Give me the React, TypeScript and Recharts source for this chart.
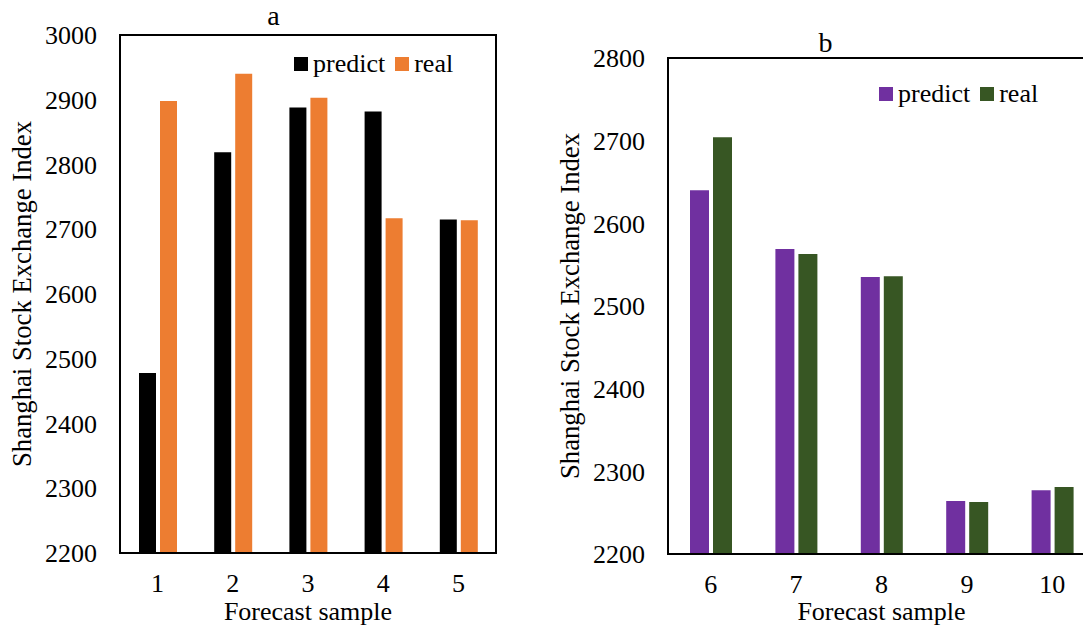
import React from 'react';
import { BarChart, Bar, XAxis, YAxis, Legend, ReferenceArea } from 'recharts';

const categoriesA = ['1', '2', '3', '4', '5'];
const predictA = [2478, 2819, 2888, 2882, 2715];
const realA = [2898, 2940, 2903, 2717, 2714];
const ticksA = [2200, 2300, 2400, 2500, 2600, 2700, 2800, 2900, 3000];

const categoriesB = ['6', '7', '8', '9', '10'];
const predictB = [2640, 2569, 2535, 2264, 2277];
const realB = [2704, 2563, 2536, 2263, 2281];
const ticksB = [2200, 2300, 2400, 2500, 2600, 2700, 2800];

const dataA = categoriesA.map((c, i) => ({ name: c, predict: predictA[i], real: realA[i] }));
const dataB = categoriesB.map((c, i) => ({ name: c, predict: predictB[i], real: realB[i] }));

const FONT = '"Liberation Serif", "Times New Roman", serif';
const FS = 26;
const textStyle = { fontFamily: FONT, fontSize: FS, fill: '#000' };
const titleStyle = { fontFamily: FONT, fontSize: 28, fill: '#000' };
const yLabelStyle = { fontFamily: FONT, fontSize: 26.7, fill: '#000' };

const renderLegend = (props: any) => {
  const { payload } = props;
  return (
    <div style={{ display: 'flex', alignItems: 'center', height: 30, lineHeight: '30px', fontFamily: FONT, fontSize: FS, color: '#000', whiteSpace: 'nowrap' }}>
      {(payload || []).map((p: any, i: number) => (
        <div key={i} style={{ display: 'flex', alignItems: 'center', marginRight: 10 }}>
          <div style={{ width: 14, height: 14, background: p.color, marginRight: 5 }} />
          <span>{p.value}</span>
        </div>
      ))}
    </div>
  );
};

type PanelProps = {
  data: any[];
  ticks: number[];
  domain: [number, number];
  width: number;
  height: number;
  plotLeft: number;
  plotTop: number;
  plotRight: number;
  plotBottom: number;
  barSize: number;
  colors: [string, string];
  title: string;
  titleX: number;
  titleY: number;
  yLabelX: number;
  legendLeft: number;
  legendTop: number;
};

const Panel = (p: PanelProps) => {
  const cx = (p.plotLeft + p.plotRight) / 2;
  const cy = (p.plotTop + p.plotBottom) / 2;
  return (
    <BarChart
      width={p.width}
      height={p.height}
      data={p.data}
      margin={{ top: p.plotTop, right: p.width - p.plotRight, left: 0, bottom: 0 }}
      barGap={4}
      style={{ fontFamily: FONT }}
    >
      <XAxis
        dataKey="name"
        height={p.height - p.plotBottom}
        tickLine={false}
        tickSize={6}
        tickMargin={15}
        axisLine={{ stroke: '#000', strokeWidth: 2 }}
        tick={{ fill: '#000', fontSize: FS, fontFamily: FONT, style: textStyle }}
      />
      <YAxis
        width={p.plotLeft}
        domain={p.domain}
        ticks={p.ticks}
        interval={0}
        allowDataOverflow
        tickLine={false}
        tickSize={6}
        tickMargin={17}
        axisLine={{ stroke: '#000', strokeWidth: 2 }}
        tick={{ fill: '#000', fontSize: FS, fontFamily: FONT, style: textStyle }}
      />
      <ReferenceArea
        y1={p.domain[0]}
        y2={p.domain[1]}
        fill="none"
        fillOpacity={0}
        stroke="#000"
        strokeWidth={2}
        ifOverflow="visible"
      />
      <Legend
        layout="horizontal"
        align="center"
        verticalAlign="middle"
        content={renderLegend}
        wrapperStyle={{ left: p.legendLeft, top: p.legendTop, width: 'auto', height: 30 }}
      />
      <Bar dataKey="predict" name="predict" fill={p.colors[0]} barSize={p.barSize} isAnimationActive={false} />
      <Bar dataKey="real" name="real" fill={p.colors[1]} barSize={p.barSize} isAnimationActive={false} />
      <text x={p.titleX} y={p.titleY} textAnchor="middle" style={titleStyle}>
        {p.title}
      </text>
      <text
        transform={`translate(${p.yLabelX}, ${cy}) rotate(-90)`}
        textAnchor="middle"
        style={yLabelStyle}
      >
        Shanghai Stock Exchange Index
      </text>
      <text x={cx} y={620} textAnchor="middle" style={textStyle}>
        Forecast sample
      </text>
    </BarChart>
  );
};

export default function App() {
  return (
    <div style={{ position: 'absolute', left: 0, top: 0, width: 1083, height: 628, overflow: 'hidden', background: '#fff', fontFamily: FONT }}>
      <div style={{ position: 'absolute', left: 0, top: 0 }}>
        <Panel
          data={dataA}
          ticks={ticksA}
          domain={[2200, 3000]}
          width={540}
          height={628}
          plotLeft={120}
          plotTop={35}
          plotRight={496}
          plotBottom={553}
          barSize={17}
          colors={['#000000', '#ED7D31']}
          title="a"
          titleX={273.5}
          titleY={25}
          yLabelX={31}
          legendLeft={294}
          legendTop={49}
        />
      </div>
      <div style={{ position: 'absolute', left: 540, top: 0 }}>
        <Panel
          data={dataB}
          ticks={ticksB}
          domain={[2200, 2800]}
          width={560}
          height={628}
          plotLeft={128}
          plotTop={58}
          plotRight={555}
          plotBottom={554}
          barSize={19}
          colors={['#7030A0', '#375623']}
          title="b"
          titleX={285.5}
          titleY={52}
          yLabelX={39}
          legendLeft={339}
          legendTop={79}
        />
      </div>
    </div>
  );
}
